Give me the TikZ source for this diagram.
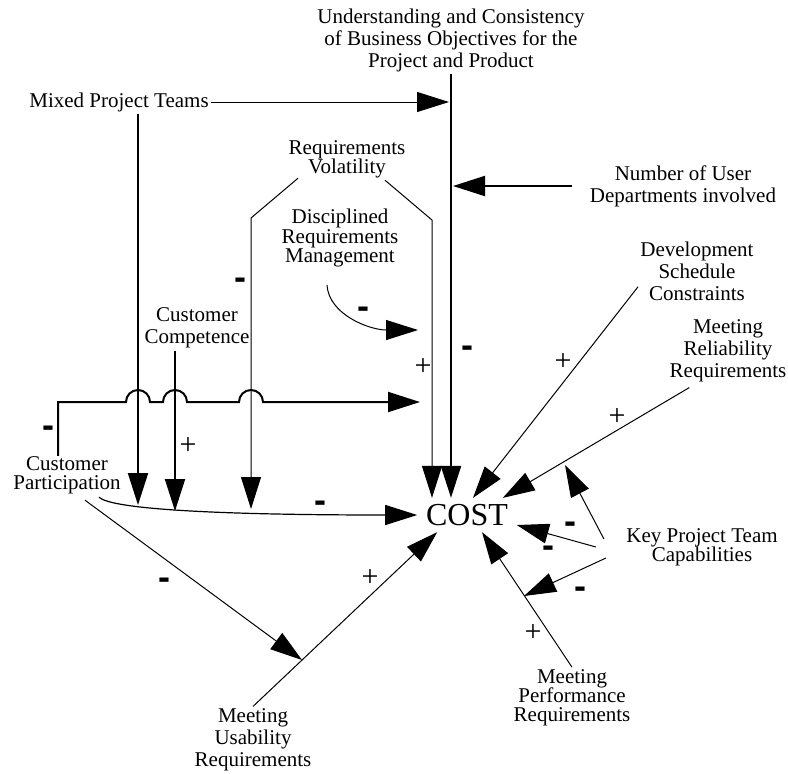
\documentclass[tikz,border=0pt]{standalone}
\usepackage{fontspec}
\setmainfont{Liberation Serif}
\newfontfamily\signfont{Liberation Sans}
\usetikzlibrary{arrows.meta}

\newcommand\tightfont{\fontsize{10.5}{9.6}\selectfont\lineskiplimit=-20pt\relax}
\tikzset{
  lbl/.style={align=center,inner sep=1pt,font=\fontsize{10.5}{11}\selectfont},
  tightlbl/.style={lbl,font=\tightfont},
  link/.style={line width=0.5pt,-{Triangle[length=16pt,width=10pt]}},
  heavy/.style={link,line width=1pt},
  plussign/.style={inner sep=0pt,font=\fontsize{15}{15}\selectfont},
  minussign/.style={inner sep=0pt,yshift=-2.5pt,font=\signfont\bfseries\fontsize{18}{18}\selectfont},
}

\begin{document}
\begin{tikzpicture}[x=0.5pt,y=-0.5pt]
  \useasboundingbox (0,0) rectangle (788,773);
  % factors
  \node[lbl] (obj) at (451,40) {Understanding and Consistency\\of Business Objectives for the\\Project and Product};
  \node[lbl] (mixed) at (119,102) {Mixed Project Teams};
  \node[tightlbl] (vol) at (347,159) {Requirements\\Volatility};
  \node[tightlbl] (drm) at (340,238) {Disciplined\\Requirements\\Management};
  \node[lbl] (users) at (683,186) {Number of User\\Departments involved};
  \node[lbl] (dev) at (697,271) {Development\\Schedule\\Constraints};
  \node[lbl] (rel) at (728,351) {Meeting\\Reliability\\Requirements};
  \node[lbl] (comp) at (197,328) {Customer\\Competence};
  \node[tightlbl] (part) at (67,475) {Customer\\Participation};
  \node[tightlbl] (key) at (702,547) {Key Project Team\\Capabilities};
  \node[tightlbl] (perf) at (572,698) {Meeting\\Performance\\Requirements};
  \node[lbl] (use) at (253,740) {Meeting\\Usability\\Requirements};
  \node[font=\fontsize{16}{16}\selectfont,inner xsep=4.25pt,inner ysep=3pt] (cost) at (467,515) {COST};

  % points on other links
  \coordinate (volL) at (251,218);
  \coordinate (volR) at (432,220);
  \coordinate (onpart1) at (138,505);
  \coordinate (onpart2) at (175,511);
  \coordinate (onpart3) at (251,509);
  \coordinate (volhop) at (420,402);
  \coordinate (voldrm) at (418,330);
  \coordinate (onuse) at (302,660);
  \coordinate (onrel) at (565,465);
  \coordinate (onperf) at (524,596);

  % links
  \draw[heavy] (obj.south) -- (obj.south |- cost.north);
  \draw[link,shorten >=1pt] (mixed.east) -- (mixed.east -| obj.south);
  \draw[heavy,shorten >=1pt] ([xshift=-8pt]users.west) -- (users.west -| obj.south);
  \draw[heavy] ([xshift=9.5pt]mixed.south) -- (onpart1);
  \draw[heavy] ([xshift=-11pt]comp.south) -- (onpart2);
  \draw[link] ([xshift=-24.5pt,yshift=1pt]vol.south) -- (volL) -- (onpart3);
  \draw[link] ([xshift=19pt]vol.south) -- (volR) -- (volR |- cost.north);
  \draw[link] ([shift={(-6.5pt,-8pt)}]drm.south) .. controls (329,315) and (370,330) .. (voldrm);
  \draw[heavy] ([xshift=-4.5pt,yshift=-1pt]part.north) -- (58,402) -- (126,402)
    arc[start angle=180,end angle=0,radius=6pt] -- (163,402)
    arc[start angle=180,end angle=0,radius=6pt] -- (239,402)
    arc[start angle=180,end angle=0,radius=6pt] -- (volhop);
  \draw[link,line width=0.6pt] ([shift={(16pt,-0.5pt)}]part.south) .. controls (110,508) and (200,515) .. (cost.west);
  \draw[link] ([shift={(9pt,-2pt)}]part.south) -- (onuse);
  \draw[link] (use.north) -- ([xshift=10pt]cost.south west);
  \draw[link] (perf.north) -- ([xshift=7.5pt]cost.south);
  \draw[link] ([yshift=8pt]dev.south west) -- ([xshift=3pt]cost.north);
  \draw[link] ([shift={(11pt,-1.5pt)}]rel.south west) -- ([xshift=-7pt]cost.north east);
  \draw[link] ([shift={(-10pt,4pt)}]key.west) -- (onrel);
  \draw[link] ([xshift=-14pt]key.west) -- ([yshift=-5pt]cost.east);
  \draw[link] ([shift={(-9pt,-5.5pt)}]key.west) -- (onperf);

  % signs
  \node[minussign] (neg1) at (467,347) {-};
  \node[minussign] (neg2) at (240,279) {-};
  \node[minussign] (neg3) at (363,308) {-};
  \node[minussign] (neg4) at (48,427) {-};
  \node[minussign] (neg5) at (320,502) {-};
  \node[minussign] (neg6) at (164,579) {-};
  \node[minussign] (neg7) at (570,523) {-};
  \node[minussign] (neg8) at (548,547) {-};
  \node[minussign] (neg9) at (580,588) {-};
  \node[plussign] (pos1) at (423,367) {+};
  \node[plussign] (pos2) at (188,446) {+};
  \node[plussign] (pos3) at (563,362) {+};
  \node[plussign] (pos4) at (617,417) {+};
  \node[plussign] (pos5) at (370,578) {+};
  \node[plussign] (pos6) at (533,633) {+};
\end{tikzpicture}
\end{document}
